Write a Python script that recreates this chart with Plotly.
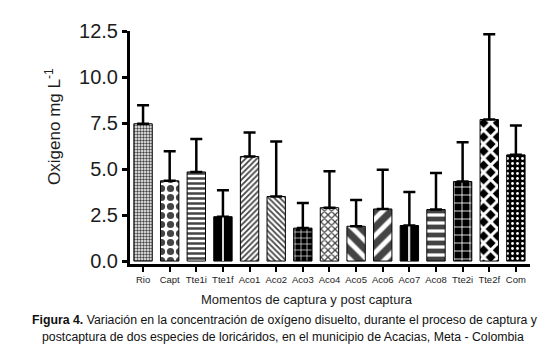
import plotly.graph_objects as go

# ---- data ----
categories = ["Rio", "Capt", "Tte1i", "Tte1f", "Aco1", "Aco2", "Aco3", "Aco4",
              "Aco5", "Aco6", "Aco7", "Aco8", "Tte2i", "Tte2f", "Com"]
means = [7.46, 4.36, 4.84, 2.41, 5.68, 3.51, 1.79, 2.90,
         1.89, 2.83, 1.93, 2.80, 4.32, 7.69, 5.77]
upper = [8.47, 5.97, 6.63, 3.85, 6.99, 6.49, 3.16, 4.88,
         3.32, 4.96, 3.75, 4.79, 6.46, 12.33, 7.36]
ytick_vals = [0, 2.5, 5.0, 7.5, 10.0, 12.5]
ytick_text = ["0.0", "2.5", "5.0", "7.5", "10.0", "12.5"]

# ---- styles (per bar pattern) ----
pat_shape = [".", ".", "-", "", "/", "\\", "+", "x", "\\", "/", "", "-", "+", "x", "."]
pat_fg = ["black", "black", "black", "black", "black", "black", "white", "black",
          "black", "black", "black", "black", "white", "white", "white"]
pat_bg = ["white", "white", "white", "black", "white", "white", "black", "white",
          "white", "white", "black", "white", "black", "black", "black"]
pat_size = [3, 9, 5, 6, 4, 4, 6, 5, 12, 12, 6, 8, 8, 10, 5]
pat_sol = [0.5, 0.5, 0.5, 0.5, 0.45, 0.45, 0.2, 0.45, 0.6, 0.6, 0.5, 0.6, 0.2, 0.5, 0.25]

xs = list(range(len(categories)))
err_plus = [u - m for u, m in zip(upper, means)]

FONT = "Arial, Liberation Sans, sans-serif"
TXT = "#1c1c1c"

fig = go.Figure()
fig.add_trace(go.Bar(
    x=xs, y=means, width=0.69,
    marker=dict(
        color=pat_bg,
        line=dict(color="black", width=1),
        pattern=dict(shape=pat_shape, fgcolor=pat_fg, bgcolor=pat_bg,
                     size=pat_size, solidity=pat_sol, fillmode="overlay",
                     fgopacity=1),
    ),
    error_y=dict(type="data", symmetric=False, array=err_plus,
                 arrayminus=[0] * len(means), color="black",
                 thickness=2.5, width=6),
    showlegend=False,
))
# thin light centre line on the solid black bars
centre_vals = [m if s == "" else None for m, s in zip(means, pat_shape)]
fig.add_trace(go.Bar(
    x=xs, y=[v - 0.05 if v else None for v in centre_vals], width=0.07,
    marker=dict(color="#d8d8d8", line=dict(width=0)),
    showlegend=False, hoverinfo="skip",
))

L, R, T, B = 122, 522, 13, 256
W, H = 550, 349


def px(x):
    return (x - L) / (R - L)


def py(y):
    return (B - y) / (B - T)


fig.update_layout(
    width=W, height=H, barmode="overlay",
    margin=dict(l=L, r=W - R, t=T, b=H - B),
    paper_bgcolor="white", plot_bgcolor="white",
    font=dict(family=FONT, color=TXT),
    xaxis=dict(range=[-0.49, 14.53], tickvals=xs, ticktext=categories,
               showline=True, linecolor="black", linewidth=3,
               ticks="outside", ticklen=5, tickwidth=2, tickcolor="black",
               tickfont=dict(size=9.5, family=FONT, color=TXT),
               showgrid=False, zeroline=False, fixedrange=True),
    yaxis=dict(range=[-0.16, 12.5], tickvals=ytick_vals, ticktext=ytick_text,
               showline=True, linecolor="black", linewidth=3,
               ticks="outside", ticklen=5, tickwidth=3, tickcolor="black",
               tickfont=dict(size=20, family=FONT, color=TXT),
               showgrid=False, zeroline=False, fixedrange=True),
    annotations=[
        dict(text="Oxigeno mg L<sup>-1</sup>", x=px(45), y=py(113),
             xref="paper", yref="paper", textangle=-90, showarrow=False,
             xanchor="center", yanchor="middle",
             font=dict(size=17, family=FONT, color=TXT)),
        dict(text="Momentos de captura y post captura", x=px(299), y=py(293),
             xref="paper", yref="paper", showarrow=False,
             xanchor="center", yanchor="middle",
             font=dict(size=13, family=FONT, color=TXT)),
        dict(text="<b>Figura 4.</b> Variación en la concentración de oxígeno disuelto, durante el proceso de captura y",
             x=px(277), y=py(314), xref="paper", yref="paper", showarrow=False,
             xanchor="center", yanchor="middle",
             font=dict(size=12.3, family=FONT, color="#111111")),
        dict(text="postcaptura de dos especies de loricáridos, en el municipio de Acacias, Meta - Colombia",
             x=px(275), y=py(332), xref="paper", yref="paper", showarrow=False,
             xanchor="center", yanchor="middle",
             font=dict(size=12.3, family=FONT, color="#111111")),
    ],
)

fig.write_html("out.html")
